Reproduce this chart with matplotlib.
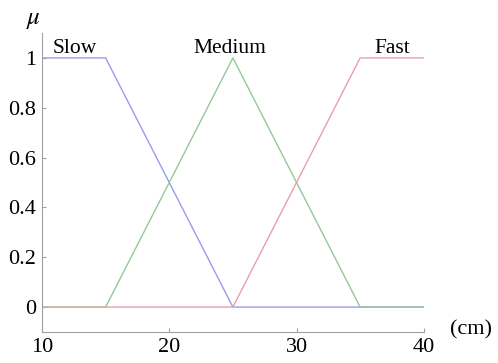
import matplotlib
matplotlib.use("Agg")
import matplotlib.pyplot as plt

plt.rcParams['font.family'] = ['Liberation Serif', 'DejaVu Serif']
plt.rcParams['mathtext.fontset'] = 'stix'

# membership functions (x in cm)
slow_x = [10, 15, 25, 40]
slow_y = [1, 1, 0, 0]
med_x = [10, 15, 25, 35, 40]
med_y = [0, 0, 1, 0, 0]
fast_x = [10, 25, 35, 40]
fast_y = [0, 0, 1, 1]

labels = ["Slow", "Medium", "Fast"]
label_x = [12.6, 24.8, 37.5]

fig = plt.figure(figsize=(4.98, 3.63), dpi=100)
ax = fig.add_axes([0.0843, 0.0854, 0.7667, 0.8237])

ax.plot(slow_x, slow_y, color="#9a9af0", lw=1)
ax.plot(med_x, med_y, color="#96c896", lw=1)
ax.plot(fast_x, fast_y, color="#e8a0aa", lw=1)

for lab, lx in zip(labels, label_x):
    ax.text(lx, 1.02, lab, ha="center", va="baseline", fontsize=15.5)

ax.set_xlim(10, 40)
ax.set_ylim(-0.1, 1.1)
ax.set_xticks([10, 20, 30, 40])
ax.set_yticks([0, 0.2, 0.4, 0.6, 0.8, 1])
ax.set_yticklabels(["0", "0.2", "0.4", "0.6", "0.8", "1"])

for s in ["top", "right"]:
    ax.spines[s].set_visible(False)
for s in ["left", "bottom"]:
    ax.spines[s].set_color("#a0a0a0")
    ax.spines[s].set_linewidth(0.8)
ax.tick_params(direction="in", colors="#a0a0a0", labelcolor="black",
               labelsize=16, length=3, pad=4)

fig.text(0.068, 0.945, r"$\mu$", fontsize=18, ha="center", va="center")
fig.text(0.945, 0.09, "(cm)", fontsize=16, ha="center", va="center")

fig.savefig("out.png", dpi=100)
